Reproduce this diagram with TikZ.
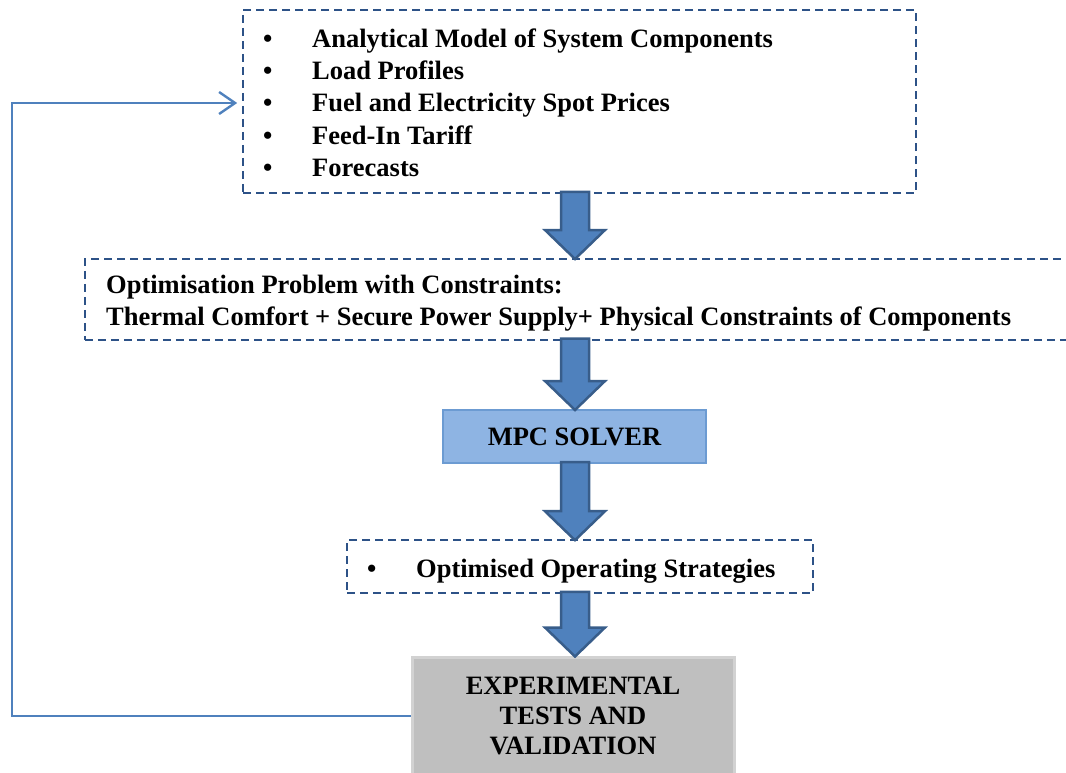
\documentclass[tikz,border=0pt]{standalone}
\usepackage{fontspec}
\setmainfont{Liberation Serif}
\usetikzlibrary{arrows.meta,calc}
\definecolor{dashblue}{RGB}{45,82,135}
\definecolor{arrowfill}{RGB}{79,129,189}
\definecolor{arrowedge}{RGB}{56,93,138}
\definecolor{mpcfill}{RGB}{142,180,227}
\definecolor{mpcedge}{RGB}{108,155,210}
\definecolor{grayfill}{RGB}{191,191,191}
\definecolor{grayedge}{RGB}{210,210,210}
\tikzset{
  dbox/.style={draw=dashblue, line width=1.6pt, dash pattern=on 8pt off 5pt, rectangle, inner sep=0pt},
  txt/.style={font=\fontsize{26.5}{32}\selectfont\bfseries, inner sep=0pt, anchor=base west},
  blk/.style={fill=arrowfill, draw=arrowedge, line width=2.5pt, line join=miter},
  fb/.style={draw=arrowfill, line width=2.4pt, -{Straight Barb[length=16pt,width=22pt,line width=2.4pt]}}
}
% block arrow from the south side of node #1 to the north side of node #2
\newcommand\blkarrow[2]{%
  \path let \p1=(#1.south), \p2=(#2.north) in
    [blk] (561pt,\y1+2pt) -- (589pt,\y1+2pt) -- (589pt,\y2+28pt) -- (605pt,\y2+28pt)
    -- (575pt,\y2-1pt) -- (545pt,\y2+28pt) -- (561pt,\y2+28pt) -- cycle;}
\begin{document}
\begin{tikzpicture}[x=1pt,y=-1pt]
\useasboundingbox (0,0) rectangle (1066,773);
% boxes
\node[dbox, minimum width=673pt, minimum height=183pt] (b1) at (579.5,101.5) {};
\node[dbox, minimum width=1000pt, minimum height=81pt, anchor=north west] (b2) at (84,258) {};
\node[draw=mpcedge, fill=mpcfill, line width=2pt, minimum width=263pt, minimum height=53pt,
      font=\fontsize{26.5}{32}\selectfont\bfseries, inner sep=0pt] (b3) at (574.5,436.5) {MPC SOLVER};
\node[dbox, minimum width=466pt, minimum height=53pt] (b4) at (580,566.5) {};
\node[draw=grayedge, fill=grayfill, line width=3pt, minimum width=322pt, minimum height=118pt,
      align=center, inner sep=0pt, font=\fontsize{26.5}{30}\selectfont\bfseries] (b5) at (573,716)
      {EXPERIMENTAL\\TESTS AND\\VALIDATION};
% list 1
\foreach \i/\y/\t in {1/48/Analytical Model of System Components,2/80/Load Profiles,
   3/112/Fuel and Electricity Spot Prices,4/145/Feed-In Tariff,5/177/Forecasts}{
  \node[txt] (bul\i) at (263,\y) {•};
  \node[txt] (l\i) at (312,\y) {\t};
}
% box 2 text
\node[txt] (o1) at (106,293) {Optimisation Problem with Constraints:};
\node[txt] (o2) at (106,325) {Thermal Comfort + Secure Power Supply+ Physical Constraints of Components};
% box 4 text
\node[txt] (bul6) at (367,577) {•};
\node[txt] (s1) at (416,577) {Optimised Operating Strategies};
% block arrows
\blkarrow{b1}{b2}
\blkarrow{b2}{b3}
\blkarrow{b3}{b4}
\blkarrow{b4}{b5}
% feedback
\coordinate (c1) at (12,716);
\coordinate (c2) at (12,103);
\draw[fb] (b5.west) -- (c1) -- (c2) -- ($(b1.west |- c2)+(-5,0)$);
\end{tikzpicture}
\end{document}
